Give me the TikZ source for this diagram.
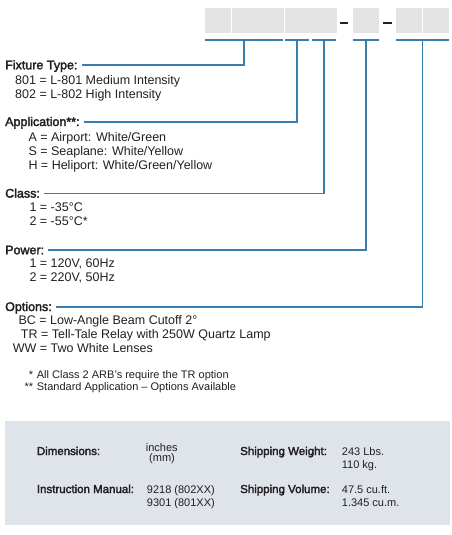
\documentclass[tikz,border=0pt]{standalone}
\usepackage{fontspec}
\setmainfont{Liberation Sans}
\newfontfamily\headfont{Liberation Sans}[FakeBold=2.5]
\definecolor{lineblue}{RGB}{58,126,172}
\definecolor{boxgrey}{RGB}{227,227,227}
\definecolor{panelgrey}{RGB}{223,228,235}
\definecolor{inkdark}{RGB}{35,31,32}
\tikzset{
  head/.style={anchor=base west, inner sep=0pt, text height=8.6pt, text depth=0pt,
    text=inkdark, font=\headfont\fontsize{12.5}{14}\selectfont},
  item/.style={anchor=base west, inner sep=0pt, text=inkdark, font=\fontsize{12.5}{14}\selectfont},
  note/.style={anchor=base west, inner sep=0pt, text=inkdark, font=\fontsize{11}{13}\selectfont},
  spec/.style={anchor=base west, inner sep=0pt, text=inkdark, font=\headfont\fontsize{11.5}{13}\selectfont},
  val/.style={anchor=base west, inner sep=0pt, text=inkdark, font=\fontsize{11}{13}\selectfont},
  conn/.style={draw=lineblue, line width=1.6pt},
  digit/.style={fill=boxgrey},
  dashbar/.style={draw=inkdark, line width=1.8pt},
}
\begin{document}
\begin{tikzpicture}[x=1pt, y=-1pt]
\useasboundingbox (0,0) rectangle (452,535);

\foreach \bx in {204.7,231.7,257.7,284.7,311,352.7,396,423.3}
  \fill[digit] (\bx,8.3) rectangle ++(26,25);
\draw[dashbar] (340,22.7) -- (348.3,22.7);
\draw[dashbar] (383.3,22.7) -- (391.7,22.7);

\draw[conn] (204.7,40) -- coordinate[midway] (u1) (282.7,40);
\draw[conn] (285,40) -- coordinate[midway] (u2) (309,40);
\draw[conn] (311.7,40) -- coordinate[midway] (u3) (336,40);
\draw[conn] (352.7,40) -- coordinate[midway] (u4) (379.3,40);
\draw[conn] (396,40) -- coordinate[midway] (u5) (449.3,40);

\node[head] (fixture) at (5,69.3) {Fixture Type:};
\node[item] (fix1) at (15,84) {801 = L-801 Medium Intensity};
\node[item] (fix2) at (15,98) {802 = L-802 High Intensity};

\node[head] (appl) at (5,126) {Application**:};
\node[item] (appl1) at (28.3,141.5) {A = Airport: White/Green};
\node[item] (appl2) at (28.3,155.5) {S = Seaplane: White/Yellow};
\node[item] (appl3) at (28.3,169.5) {H = Heliport: White/Green/Yellow};

\node[head] (class) at (5,197.6) {Class:};
\node[item] (class1) at (29.3,211) {1 = -35°C};
\node[item] (class2) at (29.3,225) {2 = -55°C*};

\node[head] (power) at (5,254.3) {Power:};
\node[item] (power1) at (29.3,267.5) {1 = 120V, 60Hz};
\node[item] (power2) at (29.3,281.5) {2 = 220V, 50Hz};

\node[head] (opts) at (5,311) {Options:};
\node[item] (opt1) at (18.3,324.5) {BC = Low-Angle Beam Cutoff 2°};
\node[item] (opt2) at (20.7,338) {TR = Tell-Tale Relay with 250W Quartz Lamp};
\node[item] (opt3) at (12.7,352) {WW = Two White Lenses};

\draw[conn, shorten >=4pt] (u1) |- (fixture.east);
\draw[conn, shorten >=4pt] (u2) |- (appl.east);
\draw[conn, shorten >=4pt] (u3) |- (class.east);
\draw[conn, shorten >=4pt] (u4) |- (power.east);
\draw[conn, shorten >=4pt] (u5) |- (opts.east);

\node[note] (note1) at (36.7,378) {\llap{*\,\,}All Class 2 ARB’s require the TR option};
\node[note] (note2) at (36.7,390.5) {\llap{**\,\,}Standard Application – Options Available};

\fill[panelgrey] (5,421) rectangle (450,525);
\node[spec] (dim) at (36.7,455) {Dimensions:};
\node[val] (dim1) at (145.7,451.5) {inches};
\node[val] (dim2) at (149,461) {(mm)};
\node[spec] (weight) at (240,455) {Shipping Weight:};
\node[val] (weight1) at (341.7,455) {243 Lbs.};
\node[val] (weight2) at (341.7,468.5) {110 kg.};
\node[spec] (manual) at (36.7,493) {Instruction Manual:};
\node[val] (manual1) at (146.7,493) {9218 (802XX)};
\node[val] (manual2) at (146.7,506.5) {9301 (801XX)};
\node[spec] (volume) at (240,493) {Shipping Volume:};
\node[val] (volume1) at (341.7,493) {47.5 cu.ft.};
\node[val] (volume2) at (341.7,506.5) {1.345 cu.m.};
\end{tikzpicture}
\end{document}
